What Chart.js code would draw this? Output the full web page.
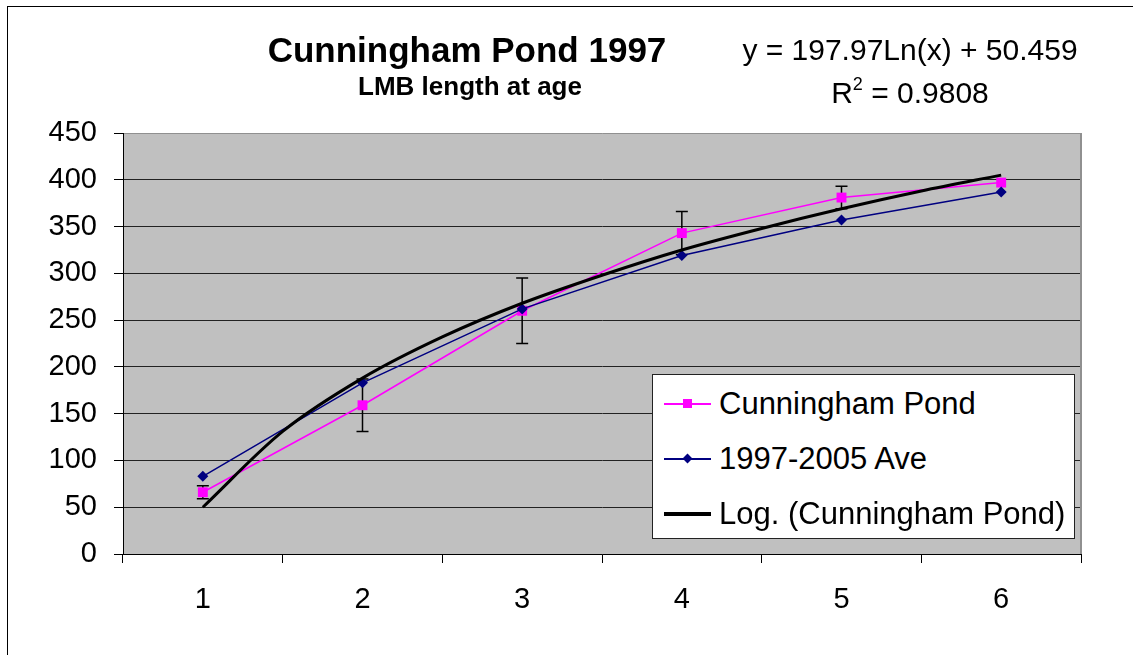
<!DOCTYPE html>
<html>
<head>
<meta charset="utf-8">
<title>Cunningham Pond 1997</title>
<script src="https://cdn.jsdelivr.net/npm/chart.js@4.4.0/dist/chart.umd.min.js"></script>
<style>
  html, body { margin: 0; padding: 0; background: #fff; overflow: hidden; }
  #wrap { position: relative; width: 1133px; height: 655px; font-family: "Liberation Sans", Arial, sans-serif; color: #000; }
  #frame { position: absolute; left: 7px; top: 6px; width: 1300px; height: 900px; border: 1px solid #000; }
  canvas { position: absolute; left: 0; top: 0; }
  .title { position: absolute; left: 167px; width: 600px; text-align: center; font-weight: bold; white-space: nowrap; }
  #t1 { top: 32px; font-size: 35px; line-height: 35px; }
  #t2 { top: 73px; left: 170px; font-size: 26px; line-height: 26px; }
  #eq { position: absolute; left: 710px; width: 400px; top: 28px; text-align: center; font-size: 30px; line-height: 43px; white-space: nowrap; }
  #eq sup { font-size: 18px; line-height: 0; vertical-align: 13px; }
  #legend { position: absolute; left: 652px; top: 374px; width: 423px; height: 165px; box-sizing: border-box; background: #fff; border: 1px solid #222; }
  .row { position: absolute; left: 0; height: 55px; width: 100%; }
  .row span { position: absolute; left: 66px; top: 0; font-size: 31px; line-height: 55px; white-space: nowrap; }
  .line { position: absolute; left: 11px; width: 47px; }
  .mark { position: absolute; }
</style>
</head>
<body>
<div id="wrap">
  <div id="frame"></div>
  <canvas id="chart" width="1133" height="655"></canvas>
  <div class="title" id="t1">Cunningham Pond 1997</div>
  <div class="title" id="t2">LMB length at age</div>
  <div id="eq">y = 197.97Ln(x) + 50.459<br>R<sup>2</sup> = 0.9808</div>
  <div id="legend">
    <div class="row" style="top:1px">
      <div class="line" style="top:27px;height:2px;background:#ff00ff"></div>
      <div class="mark" style="left:30px;top:23px;width:9px;height:9px;background:#ff00ff"></div>
      <span>Cunningham Pond</span>
    </div>
    <div class="row" style="top:56px">
      <div class="line" style="top:27px;height:2px;background:#000080"></div>
      <div class="mark" style="left:31px;top:24px;width:7px;height:7px;background:#000080;transform:rotate(45deg)"></div>
      <span>1997-2005 Ave</span>
    </div>
    <div class="row" style="top:111px">
      <div class="line" style="top:26px;height:4px;background:#000"></div>
      <span>Log. (Cunningham Pond)</span>
    </div>
  </div>
</div>
<script>
// age classes on the x axis
const ages = ["1", "2", "3", "4", "5", "6"];

// mean length at age (mm)
const pondLength = [66, 159, 260, 343, 381, 397];
const pondError = [7, 28, 35, 23, 12, 0];
const aveLength = [83, 183, 262, 319, 357, 387];

// log trendline
const trendAge = [1, 1.5, 2, 2.5, 3, 3.5, 4, 4.5, 5, 5.5, 6];
const trendLength = [50, 131, 188, 232, 268, 298, 325, 348, 369, 388, 405];

const yTicks = [0, 50, 100, 150, 200, 250, 300, 350, 400, 450];

const tickFont = { family: "'Liberation Sans', Arial, sans-serif", size: 29 };

const plotBackground = {
  id: "plotBackground",
  beforeDraw(chart) {
    const { ctx, chartArea: a } = chart;
    ctx.save();
    ctx.fillStyle = "#c0c0c0";
    ctx.fillRect(a.left, a.top, a.right - a.left, a.bottom - a.top);
    ctx.restore();
  },
};

// error bars go under the markers
const errorBars = {
  id: "errorBars",
  beforeDatasetsDraw(chart) {
    const { ctx, chartArea: a } = chart;
    const x = chart.scales.x;
    const y = chart.scales.y;

    ctx.save();
    ctx.strokeStyle = "#909090";
    ctx.lineWidth = 2;
    ctx.beginPath();
    ctx.moveTo(a.right, a.top);
    ctx.lineTo(a.right, a.bottom);
    ctx.stroke();

    ctx.strokeStyle = "#000";
    ctx.lineWidth = 1.5;
    pondLength.forEach((v, i) => {
      const e = pondError[i];
      if (!e) return;
      const px = x.getPixelForValue(i);
      const top = y.getPixelForValue(v + e);
      const bot = y.getPixelForValue(v - e);
      ctx.beginPath();
      ctx.moveTo(px, top);
      ctx.lineTo(px, bot);
      ctx.moveTo(px - 6, top);
      ctx.lineTo(px + 6, top);
      ctx.moveTo(px - 6, bot);
      ctx.lineTo(px + 6, bot);
      ctx.stroke();
    });
    ctx.restore();
  },
};

const ctx = document.getElementById("chart").getContext("2d");
new Chart(ctx, {
  type: "line",
  data: {
    labels: ages,
    datasets: [
      {
        label: "Log. (Cunningham Pond)",
        data: trendAge.map((a, i) => ({ x: a, y: trendLength[i] })),
        xAxisID: "xTrend",
        borderColor: "#000",
        borderWidth: 3,
        pointRadius: 0,
        cubicInterpolationMode: "monotone",
        order: 0,
      },
      {
        label: "1997-2005 Ave",
        data: aveLength,
        borderColor: "#000080",
        backgroundColor: "#000080",
        borderWidth: 1.5,
        pointStyle: "rectRot",
        pointRadius: 5.5,
        pointBorderWidth: 0,
        order: 1,
      },
      {
        label: "Cunningham Pond",
        data: pondLength,
        borderColor: "#ff00ff",
        backgroundColor: "#ff00ff",
        borderWidth: 1.5,
        pointStyle: "rect",
        pointRadius: 7,
        pointBorderWidth: 0,
        order: 2,
      },
    ],
  },
  options: {
    responsive: false,
    devicePixelRatio: 1,
    animation: false,
    layout: { padding: { top: 133, right: 52, left: 0, bottom: 0 } },
    plugins: { legend: { display: false }, tooltip: { enabled: false } },
    scales: {
      x: {
        type: "category",
        offset: true,
        grid: { offset: true, drawOnChartArea: false, tickLength: 9, tickColor: "#000", tickWidth: 1 },
        border: { color: "#000", width: 1 },
        ticks: { color: "#000", font: tickFont, padding: 20, maxRotation: 0 },
        afterFit(scale) { scale.height = 101; },
      },
      xTrend: { type: "linear", display: false, min: 0.5, max: 6.5 },
      y: {
        min: 0,
        max: 450,
        afterBuildTicks(scale) { scale.ticks = yTicks.map((v) => ({ value: v })); },
        grid: {
          color: (c) => (c.tick && c.tick.value === 450 ? "#909090" : "#222"),
          lineWidth: 1,
          tickLength: 9,
          tickColor: "#000",
        },
        border: { color: "#000", width: 1 },
        ticks: { color: "#000", font: tickFont, padding: 17 },
        afterFit(scale) { scale.width = 123; },
      },
    },
  },
  plugins: [plotBackground, errorBars],
});
</script>
</body>
</html>
